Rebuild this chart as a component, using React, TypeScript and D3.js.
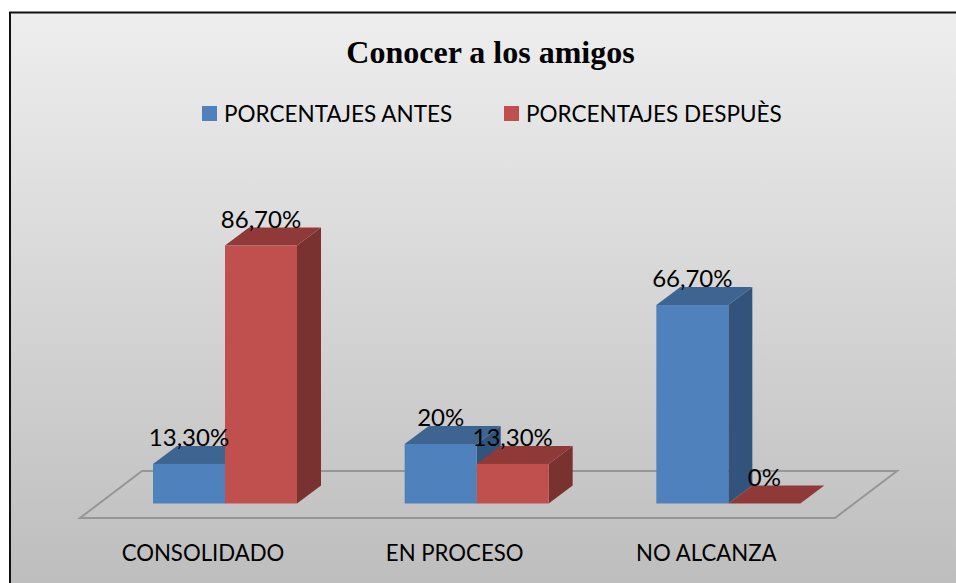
import React from "react";
import * as d3 from "d3";

const categories = ["CONSOLIDADO", "EN PROCESO", "NO ALCANZA"];
const seriesNames = ["PORCENTAJES ANTES", "PORCENTAJES DESPUÈS"];
const antes = [13.3, 20, 66.7];
const despues = [86.7, 13.3, 0];
const antesLabels = ["13,30%", "20%", "66,70%"];
const despuesLabels = ["86,70%", "13,30%", "0%"];

const W = 956, H = 583;
const dx = 24, dy = -18;
const baseY = 503.5;
const x0 = d3.scaleBand<string>().domain(categories).range([80, 835]);
const x1 = d3.scaleBand<string>().domain(seriesNames).range([73, 217]);
const y = d3.scaleLinear().domain([0, 86.7]).range([baseY, 245.5]);
const poly = d3.line();

const palettes = [
  { front: "#4f81bd", top: "#3e6591", side: "#32547c" },
  { front: "#c0504d", top: "#8f3a38", side: "#7a3230" },
];
const allValues = [antes, despues];
const allLabels = [antesLabels, despuesLabels];
const sans = "Lato, 'Open Sans', sans-serif";

export default function App() {
  return (
    <svg width={W} height={H} style={{ position: "absolute", left: 0, top: 0, display: "block" }}>
      <defs>
        <linearGradient id="bg" x1="0" y1="0" x2="0" y2="1">
          <stop offset="0" stopColor="#eeeeee" />
          <stop offset="1" stopColor="#bcbcbc" />
        </linearGradient>
      </defs>
      <rect width={W} height={H} fill="#ffffff" />
      <rect x={10} y={12.5} width={960} height={590} fill="url(#bg)" stroke="#111111" strokeWidth={2} />
      <text x={490.5} y={63} textAnchor="middle" fontFamily="'Liberation Serif', serif" fontWeight="bold" fontSize={32} fill="#000">
        Conocer a los amigos
      </text>
      {seriesNames.map((s, i) => {
        const lx = [202, 504][i];
        return (
          <g key={s}>
            <rect x={lx} y={106} width={15} height={15} fill={palettes[i].front} />
            <text x={lx + 22} y={122} fontFamily={sans} fontSize={22.5} fill="#000">{s}</text>
          </g>
        );
      })}
      <path
        d={poly([[80, 518], [835, 518], [897, 471], [142, 471]] as [number, number][]) + "Z"}
        fill="none" stroke="#969696" strokeWidth={2}
      />
      {categories.map((c) => (
        <g key={c}>
          {seriesNames.map((s, si) => {
            const v = allValues[si][categories.indexOf(c)];
            const xl = x0(c)! + x1(s)!;
            const w = x1.bandwidth();
            const t = y(v);
            const p = palettes[si];
            const top = poly([[xl, t], [xl + w, t], [xl + w + dx, t + dy], [xl + dx, t + dy]] as [number, number][]) + "Z";
            const side = poly([[xl + w, t], [xl + w + dx, t + dy], [xl + w + dx, baseY + dy], [xl + w, baseY]] as [number, number][]) + "Z";
            return (
              <g key={s}>
                {v > 0 && <path d={side} fill={p.side} />}
                <path d={top} fill={p.top} />
                {v > 0 && <rect x={xl} y={t} width={w} height={baseY - t} fill={p.front} />}
              </g>
            );
          })}
        </g>
      ))}
      {categories.map((c) => (
        <text key={c} x={x0(c)! + 123} y={561} textAnchor="middle"
          fontFamily={sans} fontSize={22.2} fill="#000">{c}</text>
      ))}
      {categories.map((c, ci) =>
        seriesNames.map((s, si) => (
          <text key={c + s} x={x0(c)! + x1(s)! + x1.bandwidth() / 2} y={y(allValues[si][ci]) - 18} textAnchor="middle"
            fontFamily={sans} fontSize={24} fill="#000">{allLabels[si][ci]}</text>
        ))
      )}
    </svg>
  );
}
